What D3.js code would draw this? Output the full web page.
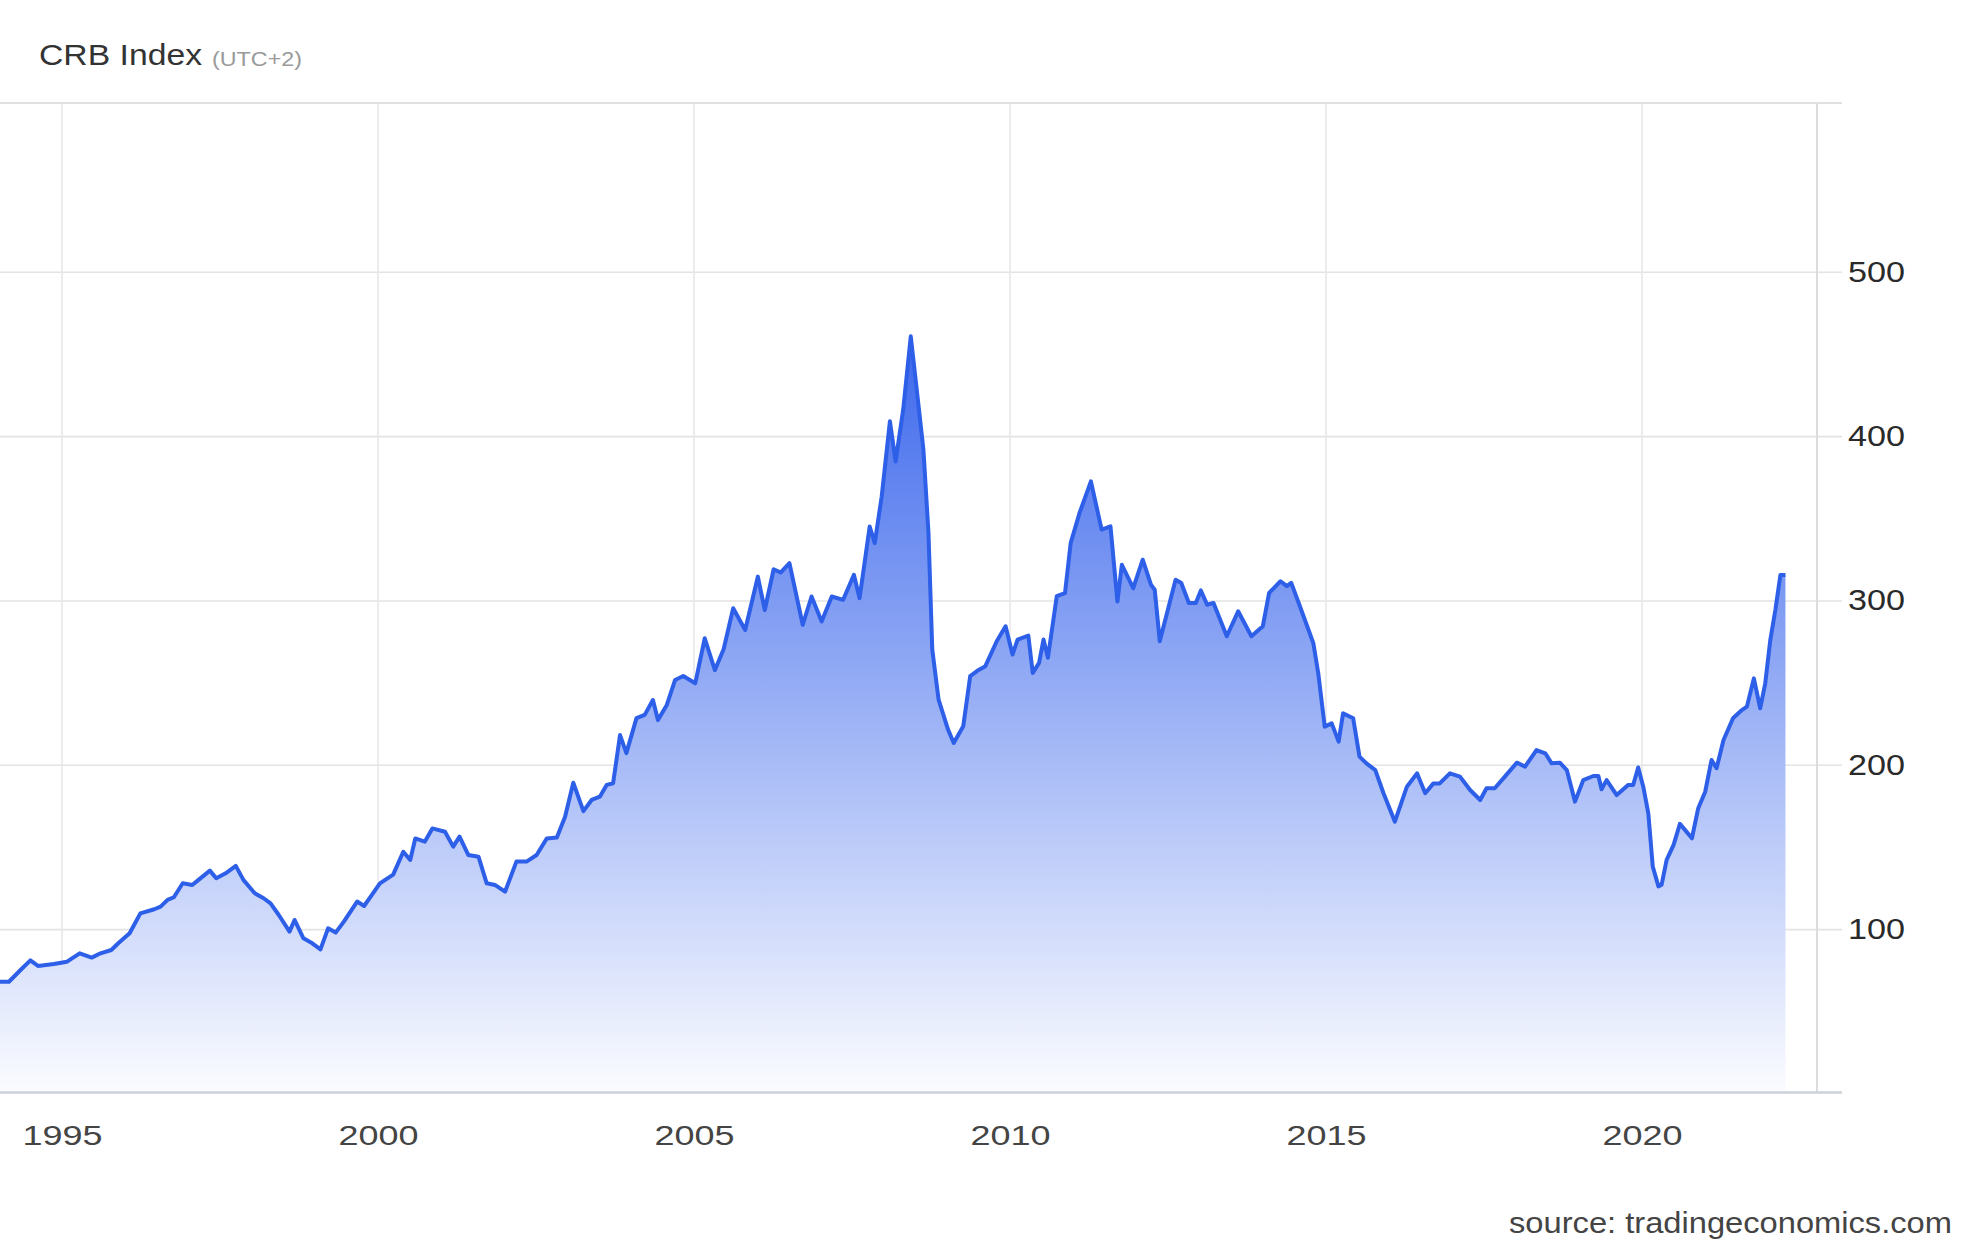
<!DOCTYPE html>
<html><head><meta charset="utf-8">
<script src="https://cdn.jsdelivr.net/npm/d3@7"></script>
<style>html,body{margin:0;padding:0;background:#fff;} svg{display:block;}</style>
</head><body>
<svg id="chart" width="1980" height="1243"></svg>
<script>
// ---- data (decimal year, index value) ----
const years = [
1994.00,1994.16,1994.34,1994.50,1994.62,1994.87,1995.08,1995.28,1995.47,1995.61,1995.78,1995.89,
1996.07,1996.24,1996.46,1996.56,1996.67,1996.77,1996.91,1997.06,1997.16,1997.34,1997.44,1997.59,
1997.75,1997.87,1998.05,1998.19,1998.30,1998.43,1998.60,1998.68,1998.82,1998.96,1999.09,1999.21,
1999.33,1999.46,1999.67,1999.78,1999.92,2000.03,2000.24,2000.40,2000.51,2000.59,2000.74,2000.86,
2001.06,2001.19,2001.29,2001.43,2001.59,2001.72,2001.85,2002.01,2002.19,2002.35,2002.51,2002.67,
2002.83,2002.96,2003.09,2003.25,2003.38,2003.51,2003.62,2003.72,2003.83,2003.93,2004.09,2004.22,
2004.35,2004.43,2004.57,2004.70,2004.83,2005.02,2005.17,2005.33,2005.47,2005.62,2005.81,2006.01,
2006.12,2006.26,2006.37,2006.51,2006.72,2006.86,2007.02,2007.18,2007.36,2007.53,2007.62,2007.78,
2007.86,2007.97,2008.10,2008.19,2008.31,2008.43,2008.56,2008.63,2008.71,2008.77,2008.87,2009.02,
2009.11,2009.26,2009.37,2009.51,2009.61,2009.79,2009.93,2010.04,2010.12,2010.29,2010.36,2010.46,
2010.53,2010.60,2010.74,2010.87,2010.96,2011.10,2011.28,2011.45,2011.59,2011.70,2011.77,2011.95,
2012.10,2012.23,2012.29,2012.37,2012.62,2012.71,2012.83,2012.94,2013.02,2013.12,2013.22,2013.43,
2013.61,2013.82,2014.00,2014.10,2014.28,2014.38,2014.45,2014.59,2014.80,2014.88,2014.98,2015.09,
2015.20,2015.27,2015.43,2015.53,2015.64,2015.78,2015.91,2016.09,2016.28,2016.44,2016.57,2016.70,
2016.80,2016.96,2017.12,2017.28,2017.44,2017.54,2017.67,2017.83,2018.02,2018.15,2018.33,2018.47,
2018.57,2018.70,2018.81,2018.94,2019.07,2019.23,2019.31,2019.36,2019.44,2019.60,2019.78,2019.86,
2019.94,2020.02,2020.10,2020.17,2020.26,2020.31,2020.39,2020.50,2020.60,2020.68,2020.79,2020.89,
2021.00,2021.10,2021.18,2021.29,2021.44,2021.58,2021.66,2021.77,2021.87,2021.95,2022.03,2022.11,
2022.19,2022.27
];
const values = [
68,68,75,81,77.6,78.8,80.2,85.3,82.7,85.3,87.3,91.4,
97.5,109.6,112.1,113.7,117.8,119.4,127.9,126.9,130,135.6,131,134,
138.5,130,121.8,118.8,115.7,108.6,98.5,105.6,94.4,91.4,87.7,100.5,
97.9,104.6,116.8,114.1,121.8,127.9,133.2,147.1,142.1,155.2,153.2,161.3,
159.3,150.2,156.3,145.1,144.1,127.9,126.9,122.8,141.1,141.1,145.1,155.2,
155.8,168.4,189.1,171.8,178.6,180.6,187.8,188.8,218.1,207.1,228.4,230.4,
239.4,227.2,236.4,251.6,254,249.6,277,257.6,270.5,295.3,282,314.5,
294.2,319,317,322.7,285.2,302.4,287.2,302.4,300.4,315.6,301.4,345,
334.9,363.3,409,384.6,416.1,460.7,416.1,391.8,341.1,270.1,239.7,221.4,
213.3,223.4,253.9,257.9,260,275.2,284.3,267.1,276.2,278.6,255.9,262,
276.2,265.1,302.6,304.4,334.9,353.2,372.5,343.1,345.1,299.4,321.7,307.5,
324.8,309.6,306.5,275.2,312.6,310.6,298.5,298.5,306.1,297.4,298.5,278.2,
293.4,278.2,284.3,304.6,311.7,308.7,310.7,296.2,274,255,223.2,225.2,
214.1,231.3,228.3,205,200.9,196.8,182.7,165.4,186.7,194.8,182.7,188.7,
188.7,194.8,192.8,184.7,178.6,185.7,185.7,192.8,201.3,198.9,209,207,
200.9,201.3,196.8,177.6,190.7,193.2,193.2,185.1,190.7,181.6,187.7,187.7,
198.4,186.7,170.5,138.1,126,127,142.2,151.3,164.1,160.4,155.3,173.6,
183.6,202.9,197.9,215.1,228.3,233.3,235.4,252.6,234.4,249.6,275.9,294.2,
315.5,315.5
];
const xTicks = [1995, 2000, 2005, 2010, 2015, 2020];
const yTicks = [100, 200, 300, 400, 500];
const titleText = "CRB Index";
const subtitleText = "(UTC+2)";
const sourceText = "source: tradingeconomics.com";

// ---- drawing ----
const svg = d3.select("#chart");
const plotRight = 1817, plotTop = 103, plotBottom = 1092.5, tickEnd = 1842;
const x = d3.scaleLinear().domain([1995, 2020]).range([62, 1642]);
const y = d3.scaleLinear().domain([0, 603]).range([1093.5, 102.5]);
const data = years.map((yr, i) => ({yr, v: values[i]}));

const defs = svg.append("defs");
const grad = defs.append("linearGradient").attr("id", "fillGrad")
  .attr("gradientUnits", "userSpaceOnUse")
  .attr("x1", 0).attr("x2", 0).attr("y1", y(460)).attr("y2", plotBottom);
grad.append("stop").attr("offset", 0).attr("stop-color", "#3d68ec");
grad.append("stop").attr("offset", 1).attr("stop-color", "#fbfcff");
defs.append("clipPath").attr("id", "plotClip").append("rect")
  .attr("x", 0).attr("y", plotTop).attr("width", plotRight).attr("height", plotBottom - plotTop);

// horizontal grid + right labels
const yAxis = d3.axisRight(y).tickValues(yTicks).tickSize(tickEnd).tickPadding(6);
const gy = svg.append("g").attr("transform", "translate(0,0)").call(yAxis);
gy.select(".domain").remove();
gy.selectAll(".tick line").attr("stroke", "#e3e3e3").attr("stroke-width", 1.6);
gy.selectAll(".tick text")
  .attr("font-family", "'Liberation Sans', Arial, sans-serif")
  .attr("font-size", 29).attr("fill", "#2a2a2a")
  .attr("textLength", d => String(d).length * 19).attr("lengthAdjust", "spacingAndGlyphs");

// vertical grid
svg.append("g").selectAll("line").data(xTicks).join("line")
  .attr("x1", d => x(d)).attr("x2", d => x(d))
  .attr("y1", plotTop).attr("y2", plotBottom)
  .attr("stroke", "#e8e8e8").attr("stroke-width", 1.6);

// area + line
const plot = svg.append("g").attr("clip-path", "url(#plotClip)");
plot.append("path").datum(data)
  .attr("d", d3.area().x(d => x(d.yr)).y0(plotBottom).y1(d => y(d.v)))
  .attr("fill", "url(#fillGrad)");
plot.append("path").datum(data)
  .attr("d", d3.line().x(d => x(d.yr)).y(d => y(d.v)))
  .attr("fill", "none").attr("stroke", "#2d5fe8").attr("stroke-width", 4)
  .attr("stroke-linejoin", "round");

// frame lines
svg.append("line").attr("x1", 0).attr("x2", tickEnd).attr("y1", plotTop).attr("y2", plotTop)
  .attr("stroke", "#e0e0e0").attr("stroke-width", 2);
svg.append("line").attr("x1", plotRight).attr("x2", plotRight).attr("y1", plotTop).attr("y2", plotBottom)
  .attr("stroke", "#dcdcdc").attr("stroke-width", 2);
svg.append("line").attr("x1", 0).attr("x2", tickEnd).attr("y1", plotBottom).attr("y2", plotBottom)
  .attr("stroke", "#cdd1da").attr("stroke-width", 2.5);

// x labels
const xAxis = d3.axisBottom(x).tickValues(xTicks).tickFormat(d3.format("d")).tickSize(0).tickPadding(33);
const gx = svg.append("g").attr("transform", `translate(0,${plotBottom})`).call(xAxis);
gx.select(".domain").remove();
gx.selectAll(".tick text")
  .attr("font-family", "'Liberation Sans', Arial, sans-serif")
  .attr("font-size", 28).attr("fill", "#444")
  .attr("textLength", d => String(d).length * 20).attr("lengthAdjust", "spacingAndGlyphs");

// title, subtitle, source
svg.append("text").attr("x", 39).attr("y", 65).text(titleText)
  .attr("font-family", "'Liberation Sans', Arial, sans-serif").attr("font-size", 30).attr("fill", "#333")
  .attr("textLength", 163).attr("lengthAdjust", "spacingAndGlyphs");
svg.append("text").attr("x", 212).attr("y", 66).text(subtitleText)
  .attr("font-family", "'Liberation Sans', Arial, sans-serif").attr("font-size", 21).attr("fill", "#9a9a9a")
  .attr("textLength", 90).attr("lengthAdjust", "spacingAndGlyphs");
svg.append("text").attr("x", 1509).attr("y", 1233).text(sourceText)
  .attr("font-family", "'Liberation Sans', Arial, sans-serif").attr("font-size", 30).attr("fill", "#444")
  .attr("textLength", 443).attr("lengthAdjust", "spacingAndGlyphs");
</script>
</body></html>
